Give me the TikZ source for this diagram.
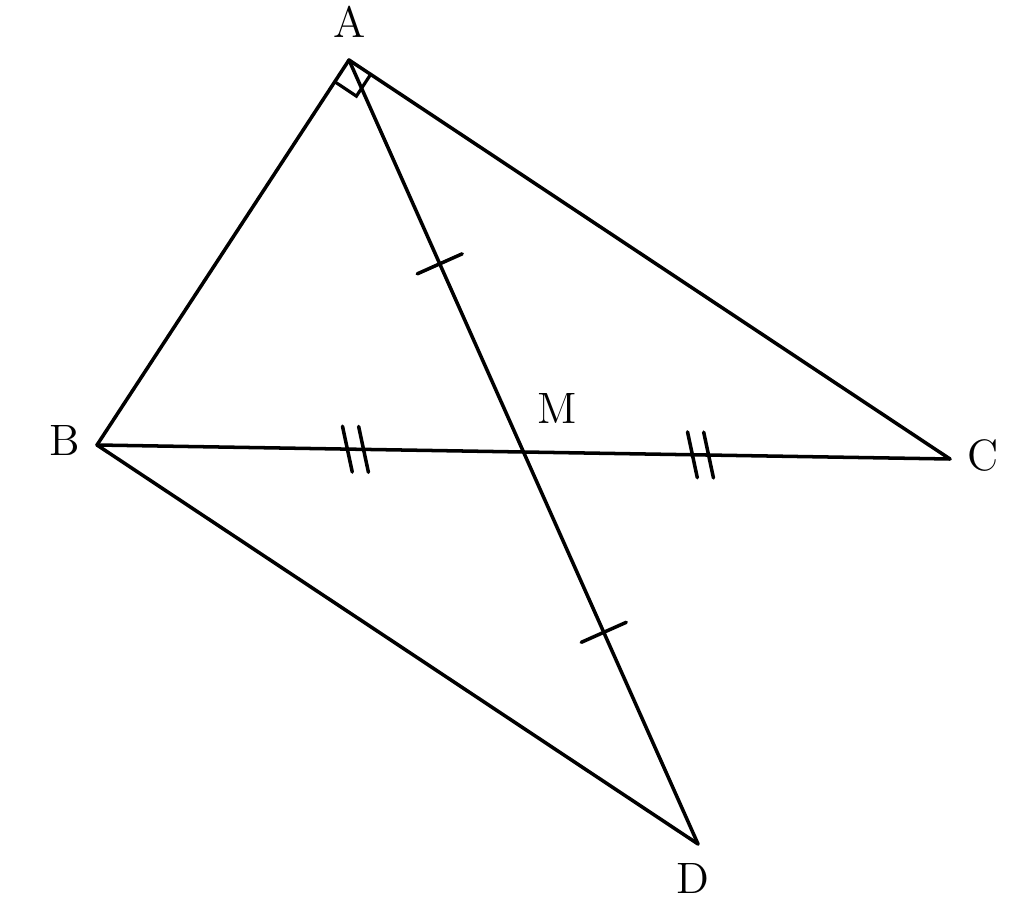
\documentclass[tikz,border=0pt]{standalone}
\usetikzlibrary{calc,decorations.markings}

\tikzset{
  seg/.style={draw,line width=1pt,line cap=round},
  pt/.style={inner sep=0pt,font=\fontsize{12.5pt}{15pt}\selectfont},
  onetick/.style={postaction={decorate,decoration={markings,
    mark=at position #1 with {\draw[line width=1pt] (0,-7pt) -- (0,7pt);}}}},
  twotick/.style={postaction={decorate,decoration={markings,
    mark=at position #1 with {\draw[line width=1pt] (-0.8pt,-6.5pt) -- (-3.8pt,6.5pt);
                              \draw[line width=1pt] (3.8pt,-6.5pt) -- (0.8pt,6.5pt);}}}}
}

\begin{document}
\begin{tikzpicture}
\useasboundingbox (0,0) rectangle (10.24,9.14);

\coordinate (A) at (3.49,8.54);
\coordinate (B) at (0.97,4.69);
\coordinate (C) at (9.50,4.55);
\coordinate (M) at ($(B)!0.5!(C)$);
\coordinate (D) at ($(M)!-1!(A)$);

\node[pt] (lA) at (3.50,8.92) {A};
\node[pt] (lB) at (0.65,4.74) {B};
\node[pt] (lC) at (9.83,4.59) {C};
\node[pt] (lM) at (5.57,5.06) {M};
\node[pt] (lD) at (6.93,0.36) {D};

\path[seg] (A) -- (B);
\path[seg] (A) -- (C);
\path[seg] (B) -- (D);
\path[seg,twotick=0.606] (B) -- (M);
\path[seg,twotick=0.415] (M) -- (C);
\path[seg,onetick=0.52] (A) -- (M);
\path[seg,onetick=0.46] (M) -- (D);

% right angle at A
\coordinate (ab) at ($(A)!2.6mm!(B)$);
\coordinate (ac) at ($(A)!2.6mm!(C)$);
\path[draw,line width=0.9pt] (ab) -- ($(ab)+(ac)-(A)$) -- (ac);
\end{tikzpicture}
\end{document}
